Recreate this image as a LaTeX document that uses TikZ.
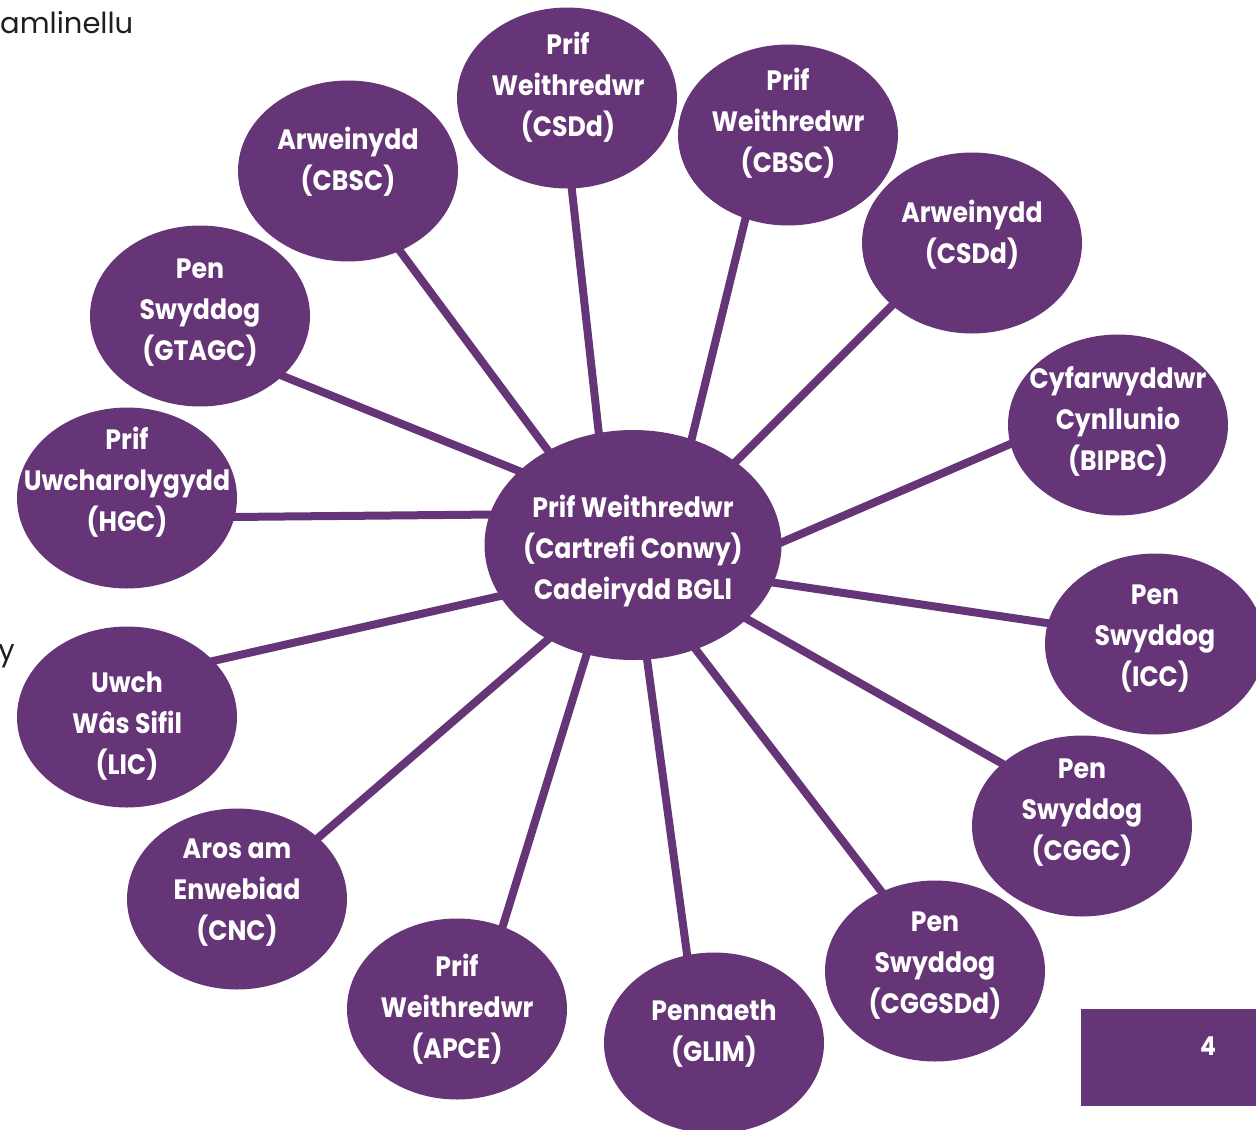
\documentclass[tikz,border=0pt]{standalone}
\usepackage{fontspec}
\setmainfont{Poppins}[FakeStretch=0.9]
\newfontfamily\bodyfont{Poppins}
\usetikzlibrary{shapes.geometric,backgrounds}
\definecolor{plum}{HTML}{663577}
\definecolor{ink}{HTML}{1E1E1E}
\begin{document}
\begin{tikzpicture}[x=1pt,y=-1pt,
  bub/.style={ellipse,fill=plum,minimum width=220pt,minimum height=181pt,inner sep=0pt,outer sep=0pt},
  hub/.style={ellipse,fill=plum,minimum width=297pt,minimum height=230pt,inner sep=0pt,outer sep=0pt},
  txt/.style={text=white,font=\fontsize{28}{41}\selectfont\bfseries,align=center,inner sep=0pt},
  conn/.style={draw=plum,line width=8pt,shorten <=-14pt,shorten >=-14pt},
  bodytxt/.style={text=ink,font=\bodyfont\fontsize{29}{35}\selectfont,inner sep=0pt},
]
\useasboundingbox (0,0) rectangle (1256,1130);

% background document text fragments
\node[bodytxt,anchor=base west] (frag1) at (0,33) {amlinellu};
\node[bodytxt,anchor=base east] (frag2) at (15,660) {y};

% ellipses
\node[hub] (c) at (633,545) {};
\node[bub] (aCBSC) at (348,171) {};
\node[bub] (pCSDd) at (567,98) {};
\node[bub] (pCBSC) at (788,135) {};
\node[bub] (aCSDd) at (972,243) {};
\node[bub] (gtagc) at (200,316) {};
\node[bub] (bipbc) at (1118,425) {};
\node[bub] (hgc) at (127,498) {};
\node[bub] (icc) at (1155,644) {};
\node[bub] (lic) at (127,717) {};
\node[bub] (cggc) at (1082,826) {};
\node[bub] (cnc) at (237,899) {};
\node[bub] (cggsdd) at (935,971) {};
\node[bub] (apce) at (457,1009) {};
\node[bub] (glim) at (714,1043) {};

% texts
\node[txt] (tc) at (633,551) {Prif Weithredwr\\(Cartrefi Conwy)\\Cadeirydd BGLl};
\node[txt] (taCBSC) at (348,161.5) {Arweinydd\\(CBSC)};
\node[txt] (tpCSDd) at (568,87) {Prif\\Weithredwr\\(CSDd)};
\node[txt] (tpCBSC) at (788,123.5) {Prif\\Weithredwr\\(CBSC)};
\node[txt] (taCSDd) at (972,234.5) {Arweinydd\\(CSDd)};
\node[txt] (tgtagc) at (200,313) {Pen\\Swyddog\\(GTAGC)};
\node[txt] (tbipbc) at (1118,421) {Cyfarwyddwr\\Cynllunio\\(BIPBC)};
\node[txt] (thgc) at (127,482) {Prif\\Uwcharolygydd\\(HGC)};
\node[txt] (ticc) at (1155,638.5) {Pen\\Swyddog\\(ICC)};
\node[txt] (tlic) at (127,726) {Uwch\\Wâs Sifil\\(LIC)};
\node[txt] (tcggc) at (1082,812.5) {Pen\\Swyddog\\(CGGC)};
\node[txt] (tcnc) at (237,893) {Aros am\\Enwebiad\\(CNC)};
\node[txt] (tcggsdd) at (935,966) {Pen\\Swyddog\\(CGGSDd)};
\node[txt] (tapce) at (457,1009.5) {Prif\\Weithredwr\\(APCE)};
\node[txt] (tglim) at (714,1033.5) {Pennaeth\\(GLIM)};

% page number box
\node[fill=plum,minimum width=175pt,minimum height=97pt,inner sep=0pt,outer sep=0pt,anchor=north west] (pg) at (1081,1009) {};
\node[text=white,font=\fontsize{26}{30}\selectfont\bfseries,inner sep=0pt] (pgnum) at (1208,1046) {4};

% connectors
\begin{scope}[on background layer]
\draw[conn] (c.132.4) -- (aCBSC.-57);
\draw[conn] (c.107.2) -- (pCSDd.-87.5);
\draw[conn] (c.61.5) -- (pCBSC.-117.4);
\draw[conn] (c.39.8) -- (aCSDd.-142);
\draw[conn] (c.147.6) -- (gtagc.-36.6);
\draw[conn] (c.1.9) -- (bipbc.-170.5);
\draw[conn] (c.168.9) -- (hgc.-10);
\draw[conn] (c.-15) -- (icc.169.7);
\draw[conn] (c.201.7) -- (lic.33.8);
\draw[conn] (c.-33.5) -- (cggc.142.7);
\draw[conn] (c.228.8) -- (cnc.37.9);
\draw[conn] (c.-59.1) -- (cggsdd.124.2);
\draw[conn] (c.247.8) -- (apce.61);
\draw[conn] (c.-83.1) -- (glim.107.8);
\end{scope}
\end{tikzpicture}
\end{document}
